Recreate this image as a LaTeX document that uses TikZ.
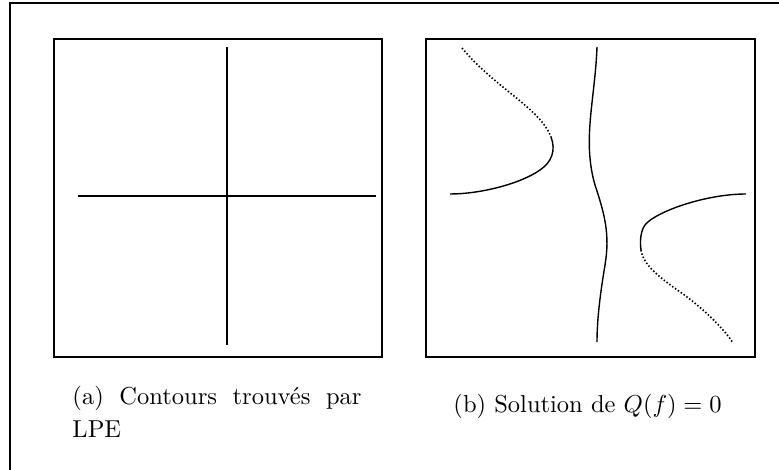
\documentclass[tikz,border=0pt]{standalone}
\usepackage{tikz}

\begin{document}
\begin{tikzpicture}[x=1pt,y=-1pt]
  \tikzset{frame/.style={line width=2pt},
    curve/.style={line width=1.4pt},
    dots/.style={line width=1.6pt,dash pattern=on 1.5pt off 2pt},
    caption/.style={font=\fontsize{10}{13.5}\selectfont,scale=2.45,inner sep=0pt,anchor=base west}}
  \useasboundingbox (0,0) rectangle (779,469);
  % outer frame, open at right and bottom
  \draw[frame] (790,3) -- (10,3) -- (10,480);
  % the two boxes
  \draw[frame] (54,39) rectangle (382,357);
  \draw[frame] (426,39) rectangle (755,357);
  % (a) the cross
  \draw[curve] (227,47) -- (227,345);
  \draw[curve] (78,196) -- (376,196);
  % (b) the three branches
  \draw[dots] (462,48) .. controls (495,88) and (540,108) .. (551,137);
  \draw[curve] (551,137) .. controls (556,150) and (552,162) .. (540,170)
    .. controls (520,184) and (480,194) .. (450,194);
  \draw[curve] (597,47) .. controls (595,100) and (582,140) .. (595,185)
    .. controls (605,215) and (610,235) .. (605,265)
    .. controls (600,295) and (597,320) .. (597,342);
  \draw[curve] (746,194) .. controls (705,194) and (655,212) .. (645,225)
    .. controls (640,232) and (640,243) .. (641,250);
  \draw[dots] (641,250) .. controls (643,265) and (660,278) .. (683,294)
    .. controls (705,310) and (725,330) .. (733,343);
  % captions
  \node[caption,text width=118pt,align=justify] (capa) at (72,404) {(a) Contours trouvés par LPE};
  \node[caption] (capb) at (453,412) {(b) Solution de $Q(f)=0$};
\end{tikzpicture}
\end{document}
